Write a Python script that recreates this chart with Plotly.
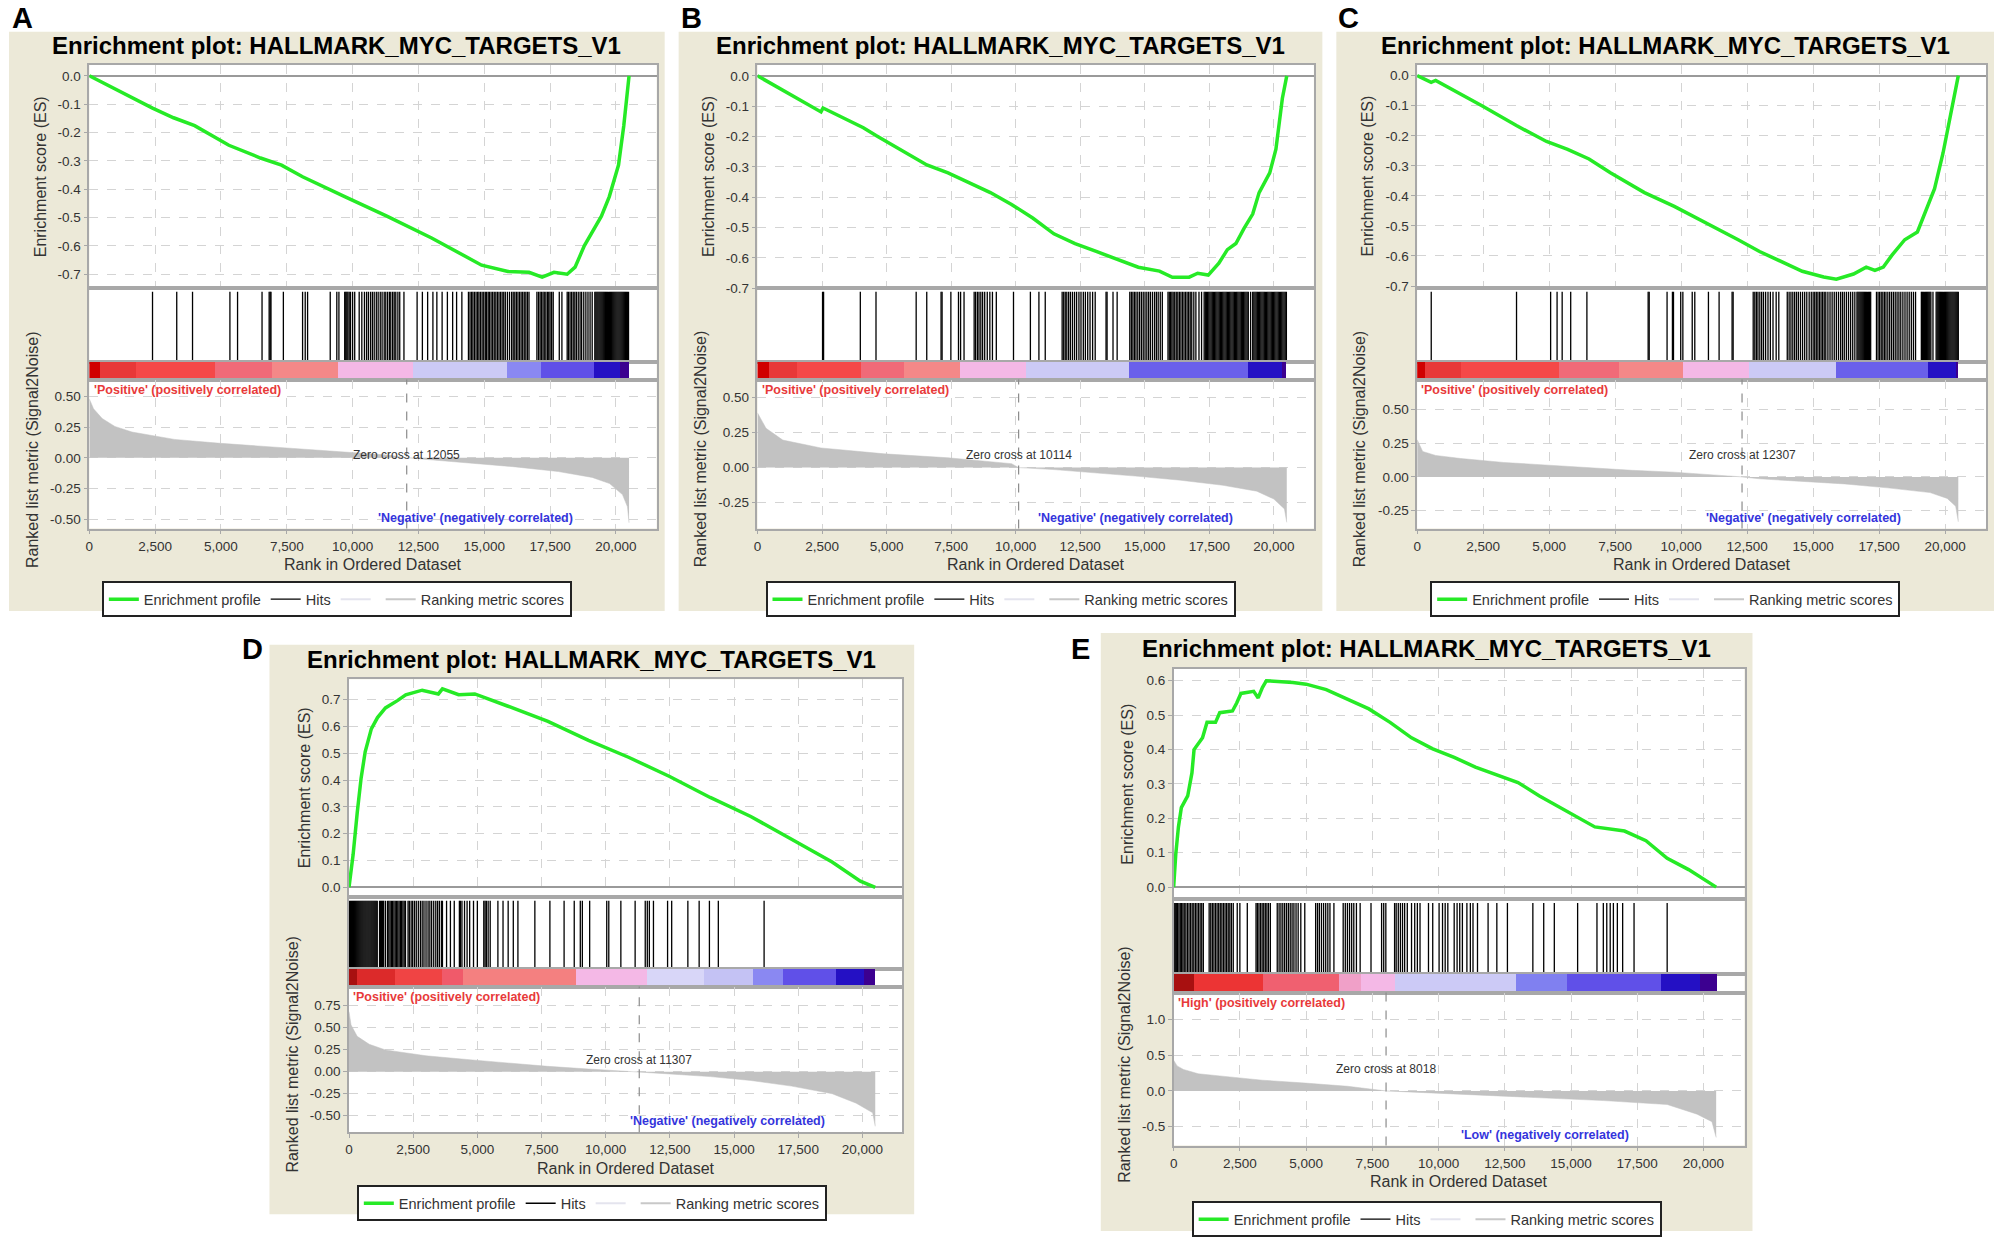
import plotly.graph_objects as go

W, H = 2000, 1242
FONT = "Liberation Sans, Arial, sans-serif"

# shared axis data
rank_ticks = [0, 2500, 5000, 7500, 10000, 12500, 15000, 17500, 20000]
rank_tick_text = ["0", "2,500", "5,000", "7,500", "10,000", "12,500", "15,000", "17,500", "20,000"]
rank_max = 21550
plot_title = "Enrichment plot: HALLMARK_MYC_TARGETS_V1"
legend_names = ["Enrichment profile", "Hits", "", "Ranking metric scores"]

neg_es_ticks = [0.0, -0.1, -0.2, -0.3, -0.4, -0.5, -0.6, -0.7]
neg_es_text = ["0.0", "-0.1", "-0.2", "-0.3", "-0.4", "-0.5", "-0.6", "-0.7"]

# ---------------- panel A ----------------
a_es_rank = [0, 1000, 2400, 3200, 4000, 5300, 6500, 7300, 8100, 9700, 11300, 13000, 14200, 14900,
             15900, 16700, 17200, 17650, 18150, 18450, 18800, 19100, 19450, 19750, 20100, 20300, 20450, 20500]
a_es = [0, -0.047, -0.114, -0.148, -0.176, -0.245, -0.29, -0.315, -0.356, -0.426, -0.495, -0.572, -0.632, -0.668,
        -0.69, -0.693, -0.71, -0.693, -0.70, -0.675, -0.60, -0.55, -0.495, -0.426, -0.315, -0.176, -0.05, 0]
a_hits = [2400, 3320, 3920, 5340, 5630, 6560, 6830, 6870, 6900, 7370, 8100, 8200, 8290, 9150, 9400, 9480,
          9700, 9740, 9780, 9820, 9870, 9920, 10000, 10080,
          10250, 10350, 10450, 10530, 10600, 10680, 10750, 10820, 10900, 10970, 11050, 11120, 11200, 11260,
          11330, 11400, 11450, 11520, 11580, 11640, 11720, 11790, 11950,
          12450, 12650, 12850, 13050, 13200, 13400, 13600, 13800, 13950, 14150,
          14400, 14460, 14520, 14570, 14630, 14690, 14750, 14800, 14860, 14920, 14980, 15040, 15090, 15150,
          15200, 15260, 15320, 15380, 15440, 15500, 15560, 15620, 15680, 15740, 15800, 15880, 15960, 16040,
          16100, 16160, 16220, 16280, 16340, 16400, 16460, 16520, 16580, 16640, 16700,
          17000, 17060, 17120, 17170, 17230, 17280, 17340, 17400, 17450, 17500, 17560, 17620, 17850, 17950,
          18150, 18200, 18260, 18320, 18380, 18440, 18500, 18570, 18640, 18700, 18780, 18860, 18940, 19020, 19100,
          19200, 19240, 19280, 19320, 19360, 19400, 19440, 19480, 19520, 19560, 19600, 19640, 19680, 19720,
          19760, 19800, 19840, 19880, 19920, 19960, 20000, 20040, 20080, 20120, 20160, 20200, 20240, 20280,
          20320, 20360, 20400, 20440, 20480]
a_band_edges = [0, 400, 1780, 4780, 6960, 9470, 12300, 15870, 17170, 19190, 20160, 20500]
a_band_colors = ["#d00000", "#e83838", "#f54848", "#f06a78", "#f48888", "#f4b8e6", "#cccaf6", "#8a88f2",
                 "#6050e8", "#2410c4", "#3c0090"]
a_met_rank = [0, 160, 490, 970, 1620, 3240, 4860, 6480, 8100, 9720, 11340, 12055, 12960, 14570, 16190,
              17810, 19100, 19760, 20250, 20440, 20500]
a_met = [0.48, 0.40, 0.32, 0.256, 0.21, 0.15, 0.12, 0.096, 0.074, 0.048, 0.022, 0.0, -0.016, -0.042, -0.074,
         -0.112, -0.16, -0.21, -0.30, -0.40, -0.53]
a_zero = 12055
a_met_ticks = [0.5, 0.25, 0.0, -0.25, -0.5]
a_met_text = ["0.50", "0.25", "0.00", "-0.25", "-0.50"]

# ---------------- panel B ----------------
b_es_rank = [0, 2460, 2540, 4100, 4590, 5740, 6560, 7380, 8200, 9020, 9840, 10660, 11480, 12300, 13120, 13930,
             14750, 15570, 16070, 16720, 17050, 17460, 17870, 18200, 18530, 18850, 19180, 19430, 19840, 20080,
             20250, 20330, 20500]
b_es = [0, -0.119, -0.106, -0.171, -0.197, -0.255, -0.294, -0.32, -0.353, -0.385, -0.424, -0.469, -0.521, -0.553,
        -0.579, -0.605, -0.631, -0.644, -0.664, -0.664, -0.651, -0.657, -0.618, -0.573, -0.553, -0.502, -0.456,
        -0.385, -0.32, -0.242, -0.139, -0.074, 0]
b_hits = [2520, 2560, 3983, 4590, 6146, 6556, 7110, 7150, 7490, 7785, 7867, 8000,
          8392, 8450, 8520, 8580, 8650, 8720, 8800, 8900, 9000, 9100, 9250, 9916, 10570, 10900, 11145,
          11800, 11860, 11920, 11980, 12050, 12120, 12200, 12280, 12360, 12450, 12530, 12620, 12700, 12790,
          12880, 12980, 13080, 13500, 13540, 13770, 13930,
          14420, 14480, 14540, 14600, 14660, 14730, 14800, 14870, 14940, 15010, 15080, 15150, 15220, 15300,
          15380, 15450, 15520, 15600, 15680, 15900, 15950, 16000, 16050, 16100, 16160, 16220, 16280, 16340,
          16400, 16460, 16520, 16580, 16640, 16700, 16760, 16820, 16900, 16980, 17100, 17200,
          17300, 17345, 17390, 17435, 17480, 17525, 17570, 17615, 17660, 17705, 17750, 17795, 17840, 17885,
          17930, 17975, 18020, 18065, 18110, 18155, 18200, 18245, 18290, 18335, 18380, 18425, 18470, 18515,
          18560, 18605, 18650, 18695, 18740, 18785, 18830, 18875, 18920, 18965, 19010, 19100,
          19180, 19225, 19270, 19315, 19360, 19405, 19450, 19495, 19540, 19585, 19630, 19675, 19720, 19765,
          19810, 19855, 19900, 19945, 19990, 20035, 20080, 20125, 20170, 20215, 20260, 20305, 20350, 20395,
          20440, 20485]
b_band_edges = [0, 460, 1560, 4020, 5700, 7870, 10410, 14420, 19010, 20320, 20500]
b_band_colors = ["#d00000", "#e83838", "#f54848", "#f06a78", "#f48888", "#f4b8e6", "#cccaf6", "#6a60ea",
                 "#2410c4", "#3c0090"]
b_met_rank = [0, 330, 980, 2460, 4920, 7380, 9840, 10114, 11480, 13120, 14750, 16390, 18030, 19340, 20000,
              20410, 20500]
b_met = [0.39, 0.28, 0.196, 0.14, 0.098, 0.07, 0.028, 0.0, -0.014, -0.036, -0.062, -0.09, -0.126, -0.168,
         -0.224, -0.294, -0.39]
b_zero = 10114
b_met_ticks = [0.5, 0.25, 0.0, -0.25]
b_met_text = ["0.50", "0.25", "0.00", "-0.25"]

# ---------------- panel C ----------------
c_es_rank = [0, 530, 700, 1660, 2470, 3760, 4900, 5700, 6510, 7320, 8610, 9740, 11030, 12160, 12970, 13780,
             14590, 15400, 15880, 16530, 17010, 17340, 17660, 17980, 18470, 18950, 19190, 19600, 19920, 20160,
             20400, 20500]
c_es = [0, -0.022, -0.016, -0.062, -0.101, -0.166, -0.219, -0.245, -0.277, -0.323, -0.389, -0.435, -0.493, -0.546,
        -0.585, -0.618, -0.651, -0.670, -0.677, -0.660, -0.637, -0.648, -0.637, -0.598, -0.546, -0.52, -0.467,
        -0.376, -0.258, -0.153, -0.048, 0]
c_hits = [533, 3764, 5056, 5300, 5493, 5816, 6430, 8750, 8790, 9467, 9670, 9710, 9984, 10065, 10420, 10517,
          11034, 11438, 11930, 11970,
          12730, 12790, 12850, 12910, 12980, 13050, 13120, 13200, 13290, 13380, 13480, 13600, 13700,
          14020, 14090, 14160, 14230, 14300, 14370, 14440, 14520, 14600, 14680, 14760, 14850, 14930, 15000,
          15060, 15120, 15180, 15240, 15300, 15360, 15420, 15480, 15560, 15640, 15720, 15800, 15880, 15960,
          16040, 16110, 16180, 16260, 16340, 16420, 16500, 16580,
          16660, 16700, 16740, 16780, 16820, 16860, 16900, 16940, 16980, 17020, 17060, 17100, 17140, 17180,
          17400, 17460, 17520, 17580, 17640, 17700, 17760, 17830, 17900, 17970, 18040, 18110, 18180, 18250,
          18320, 18400, 18480, 18560, 18640, 18720, 18800, 18880,
          19100, 19140, 19180, 19220, 19260, 19300, 19340, 19380, 19420, 19460, 19540, 19660, 19700, 19740,
          19780, 19820, 19860, 19900, 19940, 19980, 20020, 20060, 20100, 20140, 20180, 20220, 20260, 20300,
          20340, 20380, 20420, 20460, 20500]
c_band_edges = [0, 290, 1660, 5380, 7640, 10070, 12570, 15880, 19350, 20400, 20500]
c_band_colors = ["#d00000", "#e83838", "#f54848", "#f06a78", "#f48888", "#f4b8e6", "#cccaf6", "#6a60ea",
                 "#2410c4", "#3c0090"]
c_met_rank = [0, 210, 700, 1660, 3280, 4900, 6510, 8130, 9740, 11360, 12307, 12970, 14590, 16200, 17820,
              19430, 20080, 20400, 20500]
c_met = [0.275, 0.188, 0.159, 0.136, 0.107, 0.087, 0.066, 0.049, 0.035, 0.014, 0.0, -0.014, -0.032, -0.052,
         -0.081, -0.116, -0.159, -0.217, -0.332]
c_zero = 12307
c_met_ticks = [0.5, 0.25, 0.0, -0.25]
c_met_text = ["0.50", "0.25", "0.00", "-0.25"]

# ---------------- panel D ----------------
d_es_rank = [0, 80, 160, 320, 470, 630, 870, 1110, 1420, 1900, 2210, 2850, 3480, 3640, 4270, 4900, 5530,
             6170, 7750, 9330, 10910, 12490, 14070, 15650, 17240, 18820, 19920, 20500]
d_es = [0, 0.051, 0.122, 0.278, 0.406, 0.505, 0.591, 0.633, 0.669, 0.697, 0.718, 0.735, 0.721, 0.74, 0.718,
        0.721, 0.697, 0.676, 0.619, 0.548, 0.484, 0.413, 0.335, 0.264, 0.179, 0.094, 0.023, 0]
d_hits = [20, 60, 100, 140, 180, 220, 260, 300, 340, 380, 420, 460, 500, 540, 580, 620, 660, 700, 740, 780,
          820, 860, 900, 940, 980, 1020, 1060, 1100, 1190, 1230, 1270, 1310, 1350, 1420,
          1500, 1550, 1600, 1650, 1700, 1750, 1800, 1850, 1900, 1950, 2000, 2050, 2100, 2150, 2200,
          2300, 2350, 2420, 2480, 2550, 2620, 2700, 2780, 2850, 2920, 3000, 3080, 3150, 3220, 3300, 3380,
          3450, 3520, 3600, 3640, 3800, 3950, 4100, 4300, 4340, 4400, 4500, 4600, 4700, 4850, 5000, 5250,
          5300, 5350, 5420, 5500, 5800, 6000, 6200, 6400, 6580, 7240, 7826, 8379, 8774, 9010, 9090, 9375,
          10040, 10120, 10590, 11146, 11540, 11620, 11700, 11860, 12410, 12570, 13200, 13640, 14040, 14387,
          16170]
d_band_edges = [0, 320, 1800, 3640, 4430, 8850, 11620, 13830, 15730, 16920, 18970, 20080, 20500]
d_band_colors = ["#a81010", "#dc2a2a", "#f04444", "#f05a6a", "#f48080", "#f4b8e6", "#d8d6f8", "#c4c2f4",
                 "#8a88f2", "#6050e8", "#2410c4", "#3c0090"]
d_met_rank = [0, 80, 320, 790, 1420, 3000, 4590, 6170, 7750, 9330, 11307, 12490, 14070, 15650, 17240, 18820,
              19760, 20400, 20500]
d_met = [0.68, 0.53, 0.40, 0.31, 0.246, 0.18, 0.138, 0.095, 0.06, 0.03, 0.0, -0.026, -0.056, -0.10, -0.164,
         -0.25, -0.358, -0.466, -0.62]
d_zero = 11307
d_es_ticks = [0.7, 0.6, 0.5, 0.4, 0.3, 0.2, 0.1, 0.0]
d_es_text = ["0.7", "0.6", "0.5", "0.4", "0.3", "0.2", "0.1", "0.0"]
d_met_ticks = [0.75, 0.5, 0.25, 0.0, -0.25, -0.5]
d_met_text = ["0.75", "0.50", "0.25", "0.00", "-0.25", "-0.50"]

# ---------------- panel E ----------------
e_es_rank = [0, 80, 180, 290, 530, 690, 770, 1090, 1260, 1580, 1740, 2220, 2380, 2540, 3020, 3190, 3350, 3500,
             4500, 5000, 5760, 6570, 7370, 8170, 8980, 9780, 10590, 11390, 12200, 13000, 13810, 14610, 15410,
             15900, 17020, 17830, 18630, 19440, 20480]
e_es = [0, 0.096, 0.175, 0.231, 0.265, 0.332, 0.40, 0.434, 0.479, 0.479, 0.507, 0.512, 0.535, 0.563, 0.569,
        0.55, 0.58, 0.60, 0.595, 0.59, 0.574, 0.546, 0.518, 0.479, 0.434, 0.402, 0.377, 0.349, 0.327, 0.304,
        0.265, 0.231, 0.197, 0.175, 0.163, 0.135, 0.084, 0.051, 0]
e_hits = [20, 60, 100, 150, 200, 250, 300, 350, 400, 460, 520, 580, 640, 700, 760, 820, 880, 940, 1000, 1060,
          1120, 1340, 1400, 1460, 1520, 1580, 1640, 1700, 1760, 1820, 1880, 1940, 2000, 2060, 2120, 2180,
          2250, 2400, 2500, 2780, 3110, 3160, 3220, 3280, 3340, 3400, 3460, 3520, 3580, 3650,
          3910, 3980, 4050, 4120, 4190, 4260, 4330, 4400, 4470, 4540, 4620, 4700, 4800, 4950,
          5360, 5430, 5500, 5580, 5660, 5740, 5820, 5900, 6050, 6400, 6480, 6560, 6640, 6720, 6800, 6900,
          7040, 7450, 7850, 7930, 8010, 8340, 8400, 8480, 8560, 8640, 8720, 8820, 8980, 9100, 9200, 9300,
          9620, 9780, 10020, 10150, 10250, 10350, 10590, 10700, 10800, 10900, 11070, 11200, 11300, 11470,
          11870, 12200, 12600, 13560, 13970, 14370, 15250, 15980, 16220, 16350, 16480, 16600, 16750, 16950,
          17380, 18630]
e_band_edges = [0, 770, 3350, 6240, 7050, 8330, 12920, 14850, 18390, 19840, 20480]
e_band_colors = ["#a81010", "#ec3434", "#f06070", "#f0a0c8", "#f4b8e6", "#cccaf6", "#8080f0", "#6050e8",
                 "#2410c4", "#3c0090"]
e_met_rank = [0, 130, 370, 930, 1740, 3350, 4960, 6570, 8018, 9780, 13000, 16220, 18630, 19760, 20320, 20480]
e_met = [0.43, 0.35, 0.30, 0.24, 0.21, 0.15, 0.11, 0.065, 0.0, -0.027, -0.081, -0.135, -0.19, -0.325, -0.43,
         -0.65]
e_zero = 8018
e_es_ticks = [0.6, 0.5, 0.4, 0.3, 0.2, 0.1, 0.0]
e_es_text = ["0.6", "0.5", "0.4", "0.3", "0.2", "0.1", "0.0"]
e_met_ticks = [1.0, 0.5, 0.0, -0.5]
e_met_text = ["1.0", "0.5", "0.0", "-0.5"]

# layout of each panel in screen pixels
panels = [
    dict(letter="A", es_rank=a_es_rank, es=a_es, hits=a_hits, edges=a_band_edges, colors=a_band_colors,
         met_rank=a_met_rank, met=a_met, zero=a_zero, es_ticks=neg_es_ticks, es_text=neg_es_text,
         met_ticks=a_met_ticks, met_text=a_met_text, pos="'Positive' (positively correlated)",
         neg="'Negative' (negatively correlated)",
         box=(5, 32, 662, 615), px=(85.5, 654), ys=(65, 290, 364, 382, 532),
         es_range=(-0.749, 0.0396), met_range=(-0.577, 0.638), title_y=45.5, letter_xy=(19, 18),
         legend_top=585, es_dx=-49.5, met_dx=-57.5, zero_dy=3, neg_x=0.68),
    dict(letter="B", es_rank=b_es_rank, es=b_es, hits=b_hits, edges=b_band_edges, colors=b_band_colors,
         met_rank=b_met_rank, met=b_met, zero=b_zero, es_ticks=neg_es_ticks, es_text=neg_es_text,
         met_ticks=b_met_ticks, met_text=b_met_text, pos="'Positive' (positively correlated)",
         neg="'Negative' (negatively correlated)",
         box=(676, 32, 1321, 615), px=(755, 1312.5), ys=(65, 290, 364, 382, 532),
         es_range=(-0.7, 0.037), met_range=(-0.434, 0.627), title_y=45.5, letter_xy=(689, 18),
         legend_top=585, es_dx=-49, met_dx=-57.5, zero_dy=13, neg_x=0.68),
    dict(letter="C", es_rank=c_es_rank, es=c_es, hits=c_hits, edges=c_band_edges, colors=c_band_colors,
         met_rank=c_met_rank, met=c_met, zero=c_zero, es_ticks=neg_es_ticks, es_text=neg_es_text,
         met_ticks=c_met_ticks, met_text=c_met_text, pos="'Positive' (positively correlated)",
         neg="'Negative' (negatively correlated)",
         box=(1335, 32, 1994, 615), px=(1416, 1986), ys=(65, 290, 364, 382, 532),
         es_range=(-0.707, 0.037), met_range=(-0.382, 0.72), title_y=45.5, letter_xy=(1347, 18),
         legend_top=585, es_dx=-50, met_dx=-58, zero_dy=22, neg_x=0.68),
    dict(letter="D", es_rank=d_es_rank, es=d_es, hits=d_hits, edges=d_band_edges, colors=d_band_colors,
         met_rank=d_met_rank, met=d_met, zero=d_zero, es_ticks=d_es_ticks, es_text=d_es_text,
         met_ticks=d_met_ticks, met_text=d_met_text, pos="'Positive' (positively correlated)",
         neg="'Negative' (negatively correlated)",
         box=(266, 649, 912, 1222), px=(345.7, 900), ys=(683.6, 903, 975, 993, 1139.6),
         es_range=(-0.037, 0.776), met_range=(-0.687, 0.964), title_y=664, letter_xy=(249, 653),
         legend_top=1193, es_dx=-45, met_dx=-57, zero_dy=12, neg_x=0.685),
    dict(letter="E", es_rank=e_es_rank, es=e_es, hits=e_hits, edges=e_band_edges, colors=e_band_colors,
         met_rank=e_met_rank, met=e_met, zero=e_zero, es_ticks=e_es_ticks, es_text=e_es_text,
         met_ticks=e_met_ticks, met_text=e_met_text, pos="'High' (positively correlated)",
         neg="'Low' (negatively correlated)",
         box=(1099, 637, 1752, 1239), px=(1172, 1744), ys=(673, 905, 980, 999, 1153),
         es_range=(-0.035, 0.635), met_range=(-0.764, 1.375), title_y=653, letter_xy=(1079, 653),
         legend_top=1209, es_dx=-46, met_dx=-50, zero_dy=22, neg_x=0.65),
]


def fx(px):
    return px / W


def fy(py):
    return 1 - py / H


fig = go.Figure()
shapes = []
annotations = []
axes = {}
legends = {}

LINE_C = "#a8a8a8"
GRID_C = "#d4d4d4"
TICK_FONT = dict(family=FONT, size=13.5, color="#333333")

for p, pan in enumerate(panels):
    x0, x1 = pan["px"]
    es_top, es_bot, hits_bot, cb_bot, met_bot = pan["ys"]
    rows = [("es", es_top, es_bot), ("hits", es_bot, hits_bot), ("cb", hits_bot, cb_bot), ("met", cb_bot, met_bot)]
    ref = {}
    for s, (name, top, bot) in enumerate(rows):
        n = p * 4 + s + 1
        sfx = "" if n == 1 else str(n)
        ref[name] = ("x" + sfx, "y" + sfx)
        xa = dict(domain=[fx(x0), fx(x1)], range=[0, rank_max], anchor="y" + sfx, showline=True, mirror=True,
                  linecolor=LINE_C, linewidth=1.5, zeroline=False, tickvals=rank_ticks, ticktext=rank_tick_text,
                  showticklabels=(name == "met"), ticks="outside" if name == "met" else "", ticklen=4,
                  tickcolor=LINE_C, tickfont=TICK_FONT, showgrid=name in ("es", "met"), gridcolor=GRID_C,
                  griddash="dash", gridwidth=1, fixedrange=True)
        ya = dict(domain=[fy(bot), fy(top)], anchor="x" + sfx, showline=True, mirror=True, linecolor=LINE_C,
                  linewidth=1.5, fixedrange=True, tickfont=TICK_FONT, gridcolor=GRID_C, griddash="dash")
        if name == "es":
            ya.update(range=list(pan["es_range"]), tickvals=pan["es_ticks"], ticktext=pan["es_text"], ticks="outside",
                      ticklen=4, tickcolor=LINE_C, showgrid=True, zeroline=True, zerolinecolor="#9a9a9a",
                      zerolinewidth=2)
        elif name == "met":
            ya.update(range=list(pan["met_range"]), tickvals=pan["met_ticks"], ticktext=pan["met_text"],
                      ticks="outside", ticklen=4, tickcolor=LINE_C, showgrid=True, zeroline=False)
        else:
            ya.update(range=[0, 1], showticklabels=False, showgrid=False, zeroline=False, ticks="")
        axes["xaxis" + sfx] = xa
        axes["yaxis" + sfx] = ya

    lg = "legend" if p == 0 else "legend%d" % (p + 1)

    # enrichment profile
    fig.add_trace(go.Scatter(x=pan["es_rank"], y=pan["es"], mode="lines", name=legend_names[0],
                             line=dict(color="#26ea26", width=3.5), xaxis=ref["es"][0], yaxis=ref["es"][1],
                             legend=lg, hoverinfo="skip"))
    # hits
    hx, hy = [], []
    for h in pan["hits"]:
        hx += [h, h, None]
        hy += [0, 0.95, None]
    fig.add_trace(go.Scatter(x=hx, y=hy, mode="lines", name=legend_names[1], line=dict(color="black", width=1.3),
                             xaxis=ref["hits"][0], yaxis=ref["hits"][1], legend=lg, hoverinfo="skip"))
    # colour band
    edges = pan["edges"]
    mids = [(a + b) / 2 for a, b in zip(edges[:-1], edges[1:])]
    widths = [b - a for a, b in zip(edges[:-1], edges[1:])]
    fig.add_trace(go.Bar(x=mids, y=[1] * len(mids), width=widths, base=0,
                         marker=dict(color=pan["colors"], line=dict(width=0)), showlegend=False,
                         xaxis=ref["cb"][0], yaxis=ref["cb"][1], hoverinfo="skip"))
    # ranked list metric
    fig.add_trace(go.Scatter(x=pan["met_rank"], y=pan["met"], mode="lines", fill="tozeroy", fillcolor="#c2c2c2",
                             line=dict(color="#c2c2c2", width=0.5), showlegend=False,
                             xaxis=ref["met"][0], yaxis=ref["met"][1], hoverinfo="skip"))
    # legend-only entries
    fig.add_trace(go.Scatter(x=[None], y=[None], mode="lines", name=legend_names[2],
                             line=dict(color="#e4e4ee", width=2), xaxis=ref["met"][0], yaxis=ref["met"][1],
                             legend=lg))
    fig.add_trace(go.Scatter(x=[None], y=[None], mode="lines", name=legend_names[3],
                             line=dict(color="#c8c8c8", width=2), xaxis=ref["met"][0], yaxis=ref["met"][1],
                             legend=lg))

    bx0, by0, bx1, by1 = pan["box"]
    shapes.append(dict(type="rect", xref="paper", yref="paper", x0=fx(bx0), x1=fx(bx1), y0=fy(by1), y1=fy(by0),
                       fillcolor="#ece9d8", line=dict(width=0), layer="below"))
    # white plotting area on top of the beige panel
    shapes.append(dict(type="rect", xref="paper", yref="paper", x0=fx(x0), x1=fx(x1), y0=fy(met_bot),
                       y1=fy(es_top), fillcolor="white", line=dict(width=0), layer="below"))
    mx, my = ref["met"]
    shapes.append(dict(type="line", xref=mx, yref=my + " domain", x0=pan["zero"], x1=pan["zero"], y0=0, y1=1,
                       line=dict(color="#8c8c8c", width=1.2, dash="dash")))

    cx = (x0 + x1) / 2
    annotations += [
        dict(text="<b>%s</b>" % plot_title, x=fx((bx0 + bx1) / 2), y=fy(pan["title_y"]), xref="paper",
             yref="paper", showarrow=False, xanchor="center", yanchor="middle",
             font=dict(family=FONT, size=24, color="black")),
        dict(text="<b>%s</b>" % pan["letter"], x=fx(pan["letter_xy"][0]), y=fy(pan["letter_xy"][1]),
             xref="paper", yref="paper", showarrow=False, xanchor="center", yanchor="middle",
             font=dict(family=FONT, size=29, color="black")),
        dict(text="Rank in Ordered Dataset", x=fx(cx), y=fy(met_bot + 36), xref="paper", yref="paper",
             showarrow=False, xanchor="center", yanchor="middle", font=dict(family=FONT, size=16, color="#333333")),
        dict(text="Enrichment score (ES)", x=fx(x0 + pan["es_dx"]), y=fy((es_top + es_bot) / 2), xref="paper",
             yref="paper", showarrow=False, textangle=-90, xanchor="center", yanchor="middle",
             font=dict(family=FONT, size=16, color="#333333")),
        dict(text="Ranked list metric (Signal2Noise)", x=fx(x0 + pan["met_dx"]), y=fy((cb_bot + met_bot) / 2 - 5),
             xref="paper", yref="paper", showarrow=False, textangle=-90, xanchor="center", yanchor="middle",
             font=dict(family=FONT, size=16, color="#333333")),
        dict(text="Zero cross at %d" % pan["zero"], x=pan["zero"], y=0, xref=mx, yref=my, showarrow=False,
             xanchor="center", yanchor="middle", yshift=pan["zero_dy"],
             font=dict(family=FONT, size=12, color="#333333")),
        dict(text="<b>%s</b>" % pan["pos"], x=0.004, y=1, xref=mx + " domain", yref=my + " domain",
             showarrow=False, xanchor="left", yanchor="top", yshift=-1,
             font=dict(family=FONT, size=12.5, color="#e83a3a")),
        dict(text="<b>%s</b>" % pan["neg"], x=pan["neg_x"], y=0, xref=mx + " domain", yref=my + " domain",
             showarrow=False, xanchor="center", yanchor="bottom", yshift=2,
             font=dict(family=FONT, size=12.5, color="#3434dc")),
    ]
    legends[lg] = dict(x=fx((bx0 + bx1) / 2), y=fy(pan["legend_top"]), xanchor="center", yanchor="top",
                       orientation="h", bgcolor="white", bordercolor="#222222", borderwidth=2,
                       font=dict(family=FONT, size=14.5, color="#333333"), itemwidth=30, tracegroupgap=0)

fig.update_layout(width=W, height=H, margin=dict(l=0, r=0, t=0, b=0), paper_bgcolor="white",
                  plot_bgcolor="white", font=dict(family=FONT), shapes=shapes, annotations=annotations,
                  showlegend=True, bargap=0, **axes, **legends)

fig.write_html("out.html", config={"displayModeBar": False},
               post_script="document.body.style.margin='0';")
